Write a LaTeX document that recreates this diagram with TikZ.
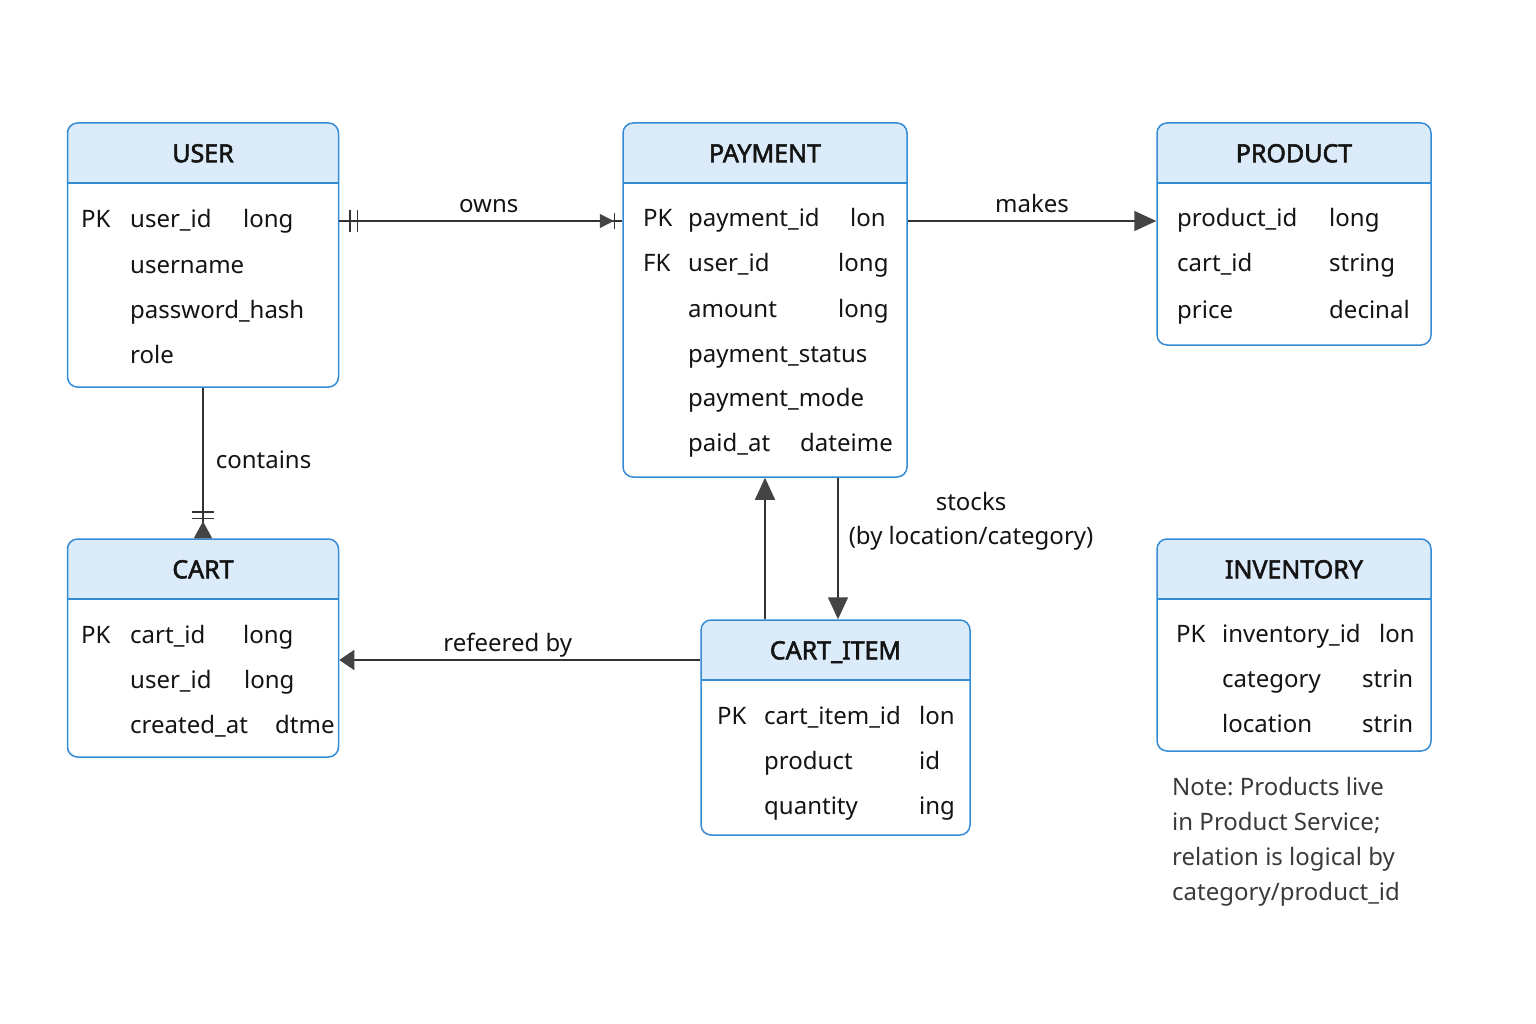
\documentclass[tikz,border=0pt]{standalone}
\usepackage{fontspec}
\setmainfont{Noto Sans}
\newfontfamily\titlefont[FakeBold=2.2]{Noto Sans}
\usetikzlibrary{arrows.meta,positioning}
\definecolor{boxblue}{RGB}{52,140,214}
\definecolor{headblue}{RGB}{220,235,250}
\definecolor{linegray}{RGB}{51,51,51}
\definecolor{tipgray}{RGB}{68,68,68}
\definecolor{notegray}{RGB}{58,58,58}
\definecolor{inkblack}{RGB}{20,20,20}

\begin{document}
\begin{tikzpicture}[x=1pt, y=-1pt,
  every node/.style={text=inkblack},
  entity/.style={draw=boxblue, line width=1.5pt, rounded corners=10pt,
                 fill=white, inner sep=0pt,
                 path picture={
                   \fill[headblue, sharp corners] (path picture bounding box.north west)
                     rectangle ([yshift=-60pt]path picture bounding box.north east);
                   \draw[boxblue, line width=1.5pt, sharp corners]
                     ([yshift=-60pt]path picture bounding box.north west)
                     -- ([yshift=-60pt]path picture bounding box.north east);}},
  title/.style={anchor=base, font=\titlefont\fontsize{25}{30}\selectfont},
  field/.style={anchor=base west, inner sep=0pt, font=\fontsize{24}{28}\selectfont},
  lbl/.style={inner sep=0pt, font=\fontsize{24}{34}\selectfont\frenchspacing},
  rel/.style={draw=linegray, line width=1.5pt},
  >={Triangle[length=22pt,width=20pt,color=tipgray]},
]
\useasboundingbox (0,0) rectangle (1536,1024);

%% entities
\node[entity, minimum width=271pt, minimum height=264pt] (user)      at (203,255)    {};
\node[entity, minimum width=284pt, minimum height=354pt] (payment)   at (765,300)    {};
\node[entity, minimum width=274pt, minimum height=222pt] (product)   at (1294,234)   {};
\node[entity, minimum width=271pt, minimum height=218pt] (cart)      at (203,648)    {};
\node[entity, minimum width=269pt, minimum height=215pt] (cartitem)  at (835.5,727.5) {};
\node[entity, minimum width=274pt, minimum height=212pt] (inventory) at (1294,645)   {};

\node[title] (usertitle)      at ([yshift=-40pt]user.north)      {USER};
\node[title] (paymenttitle)   at ([yshift=-40pt]payment.north)   {PAYMENT};
\node[title] (producttitle)   at ([yshift=-40pt]product.north)   {PRODUCT};
\node[title] (carttitle)      at ([yshift=-40pt]cart.north)      {CART};
\node[title] (cartitemtitle)  at ([yshift=-40pt]cartitem.north)  {CART\_ITEM};
\node[title] (inventorytitle) at ([yshift=-40pt]inventory.north) {INVENTORY};

%% USER fields
\node[field] (userpk) at (81,228) {PK};
\foreach \n/\y [count=\i] in {user\_id/228, username/273, password\_hash/318, role/363}
  \node[field] (username\i) at (130,\y) {\n};
\node[field] (usertype1) at (243,228) {long};

%% PAYMENT fields
\node[field] (paymentpk) at (643,227) {PK};
\node[field] (paymentfk) at (643,272) {FK};
\foreach \n/\y [count=\i] in {payment\_id/227, user\_id/272, amount/317,
                              payment\_status/362, payment\_mode/406, paid\_at/451}
  \node[field] (paymentname\i) at (688,\y) {\n};
\foreach \t/\x/\y [count=\i] in {lon/850/227, long/838/272, long/838/317, dateime/800/451}
  \node[field] (paymenttype\i) at (\x,\y) {\t};

%% PRODUCT fields
\foreach \n/\t/\y [count=\i] in {product\_id/long/227, cart\_id/string/272, price/decinal/318}{
  \node[field] (productname\i) at (1177,\y) {\n};
  \node[field] (producttype\i) at (1329,\y) {\t};
}

%% CART fields
\node[field] (cartpk) at (81,643) {PK};
\foreach \n/\t/\x/\y [count=\i] in {cart\_id/long/243/643, user\_id/long/244/688, created\_at/dtme/275/733}{
  \node[field] (cartname\i) at (130,\y) {\n};
  \node[field] (carttype\i) at (\x,\y) {\t};
}

%% CART_ITEM fields
\node[field] (cartitempk) at (717,724) {PK};
\foreach \n/\t/\y [count=\i] in {cart\_item\_id/lon/724, product/id/769, quantity/ing/814}{
  \node[field] (cartitemname\i) at (764,\y) {\n};
  \node[field] (cartitemtype\i) at (919,\y) {\t};
}

%% INVENTORY fields
\node[field] (inventorypk) at (1176,642) {PK};
\foreach \n/\t/\x/\y [count=\i] in {inventory\_id/lon/1379/642, category/strin/1362/687, location/strin/1362/732}{
  \node[field] (inventoryname\i) at (1222,\y) {\n};
  \node[field] (inventorytype\i) at (\x,\y) {\t};
}

%% note
\node[lbl, text=notegray, anchor=north west, align=left, font=\fontsize{24}{35}\selectfont\frenchspacing]
  (note) at (1172,777)
  {Note: Products live\\in Product Service;\\relation is logical by\\category/product\_id};

%% relations
\coordinate (ownsA) at ([yshift=34pt]user.east);
\coordinate (ownsB) at (ownsA -| payment.west);
\draw[rel] (ownsA) -- (ownsB)
  node[lbl, midway, anchor=base, xshift=8pt, yshift=8pt] (ownslbl) {owns};
\draw[rel, -{Bar[width=22pt,sep=6pt]Bar[width=22pt]}, shorten >=10pt] (ownsB) -- (ownsA);
\draw[rel, -{Triangle[length=14pt,width=14pt,color=tipgray]Bar[width=16pt]}, shorten >=7pt] (ownsA) -- (ownsB);

\coordinate (makesA) at ([yshift=79pt]payment.east);
\draw[rel, ->] (makesA) -- (makesA -| product.west)
  node[lbl, midway, anchor=base, yshift=8pt] (makeslbl) {makes};

\draw[rel] (user.south) -- (cart.north)
  node[lbl, midway, anchor=base west, xshift=12pt, yshift=-5pt] (containslbl) {contains};
\draw[rel, -{Bar[width=22pt,sep=5pt]Bar[width=22pt,sep=2pt]Triangle[reversed,length=17pt,width=18pt,color=tipgray]}]
  (user.south) -- (cart.north);

\draw[rel, ->] (cartitem.north -| payment.south) -- (payment.south);
\coordinate (stocksA) at ([xshift=73pt]payment.south);
\draw[rel, ->] (stocksA) -- (stocksA |- cartitem.north)
  node[lbl, pos=0, anchor=north west, xshift=10pt, yshift=-14pt, align=center] (stockslbl)
  {stocks\\(by location/category)};

\coordinate (refA) at ([yshift=67.5pt]cartitem.west);
\draw[rel, -{Triangle[length=15pt,width=20pt,color=tipgray]}] (refA) -- (refA -| cart.east)
  node[lbl, midway, anchor=base, xshift=-12pt, yshift=9pt] (reflbl) {refeered by};

\end{tikzpicture}
\end{document}
